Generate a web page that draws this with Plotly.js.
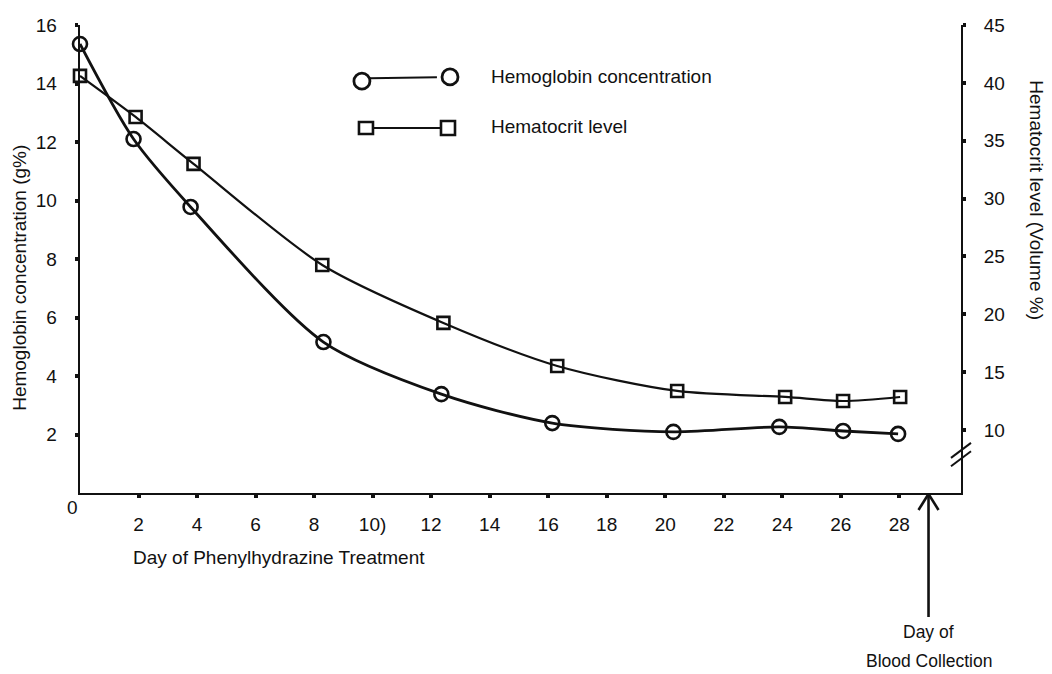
<!DOCTYPE html>
<html>
<head>
<meta charset="utf-8">
<script src="https://cdn.plot.ly/plotly-3.0.1.min.js"></script>
<style>
html,body{margin:0;padding:0;background:#fff;}
#chart{width:1052px;height:674px;}
</style>
</head>
<body>
<div id="chart"></div>
<script>
// ---- data ----
const hemoDays = [0, 1.83, 3.78, 8.32, 12.35, 16.14, 20.28, 23.9, 26.08, 27.96];
const hemoValues = [15.35, 12.1, 9.78, 5.16, 3.38, 2.39, 2.09, 2.26, 2.12, 2.02];
const hctDays = [0, 1.9, 3.88, 8.28, 12.42, 16.31, 20.41, 24.1, 26.08, 28.03];
const hctValues = [40.6, 37.05, 33.0, 24.26, 19.25, 15.53, 13.37, 12.85, 12.5, 12.85];
const xTickVals = [2, 4, 6, 8, 10, 12, 14, 16, 18, 20, 22, 24, 26, 28];
const xTickText = ["2", "4", "6", "8", "10)", "12", "14", "16", "18", "20", "22", "24", "26", "28"];
const leftTickVals = [2, 4, 6, 8, 10, 12, 14, 16];
const rightTickVals = [10, 15, 20, 25, 30, 35, 40, 45];
const collectionDay = 29;
const seriesNames = ["Hemoglobin concentration", "Hematocrit level"];

const FONT = '"Liberation Sans", Arial, Helvetica, sans-serif';
const INK = '#111111';

const traces = [
  {
    x: hemoDays, y: hemoValues, name: seriesNames[0], yaxis: 'y',
    type: 'scatter', mode: 'lines+markers', cliponaxis: false,
    line: {color: INK, width: 2.8, shape: 'spline', smoothing: 0.8},
    marker: {symbol: 'circle-open', size: 14, color: INK, line: {width: 2.6, color: INK}},
    showlegend: false
  },
  {
    x: hctDays, y: hctValues, name: seriesNames[1], yaxis: 'y2',
    type: 'scatter', mode: 'lines+markers', cliponaxis: false,
    line: {color: INK, width: 2.2, shape: 'spline', smoothing: 0.8},
    marker: {symbol: 'square-open', size: 12, color: INK, line: {width: 2.6, color: INK}},
    showlegend: false
  }
];

function pxShape(type, ax, ay, x0, y0, x1, y1, w) {
  return {type: type, xref: 'paper', yref: 'paper', xsizemode: 'pixel', ysizemode: 'pixel',
    xanchor: ax, yanchor: ay, x0: x0, y0: y0, x1: x1, y1: y1,
    line: {color: INK, width: w}};
}

const shapes = [
  // legend samples
  pxShape('line', 0.32, 0.886, 8, 0, 75, 1, 2),
  pxShape('circle', 0.32, 0.880, -8, -8, 8, 8, 2.8),
  pxShape('circle', 0.42, 0.889, -8, -8, 8, 8, 2.8),
  pxShape('line', 0.3246, 0.780, 7, 0, 75, 0, 2),
  pxShape('rect', 0.3246, 0.780, -7, -6, 7, 6, 2.6),
  pxShape('rect', 0.4177, 0.780, -7, -7, 7, 7, 2.6),
  // axis break marks on right axis
  pxShape('line', 1, 0.090, -10, -7, 10, 8, 2),
  pxShape('line', 1, 0.072, -10, -7, 10, 8, 2),
  // arrow for day of blood collection
  {type: 'line', xref: 'x', yref: 'paper', x0: collectionDay, x1: collectionDay, y0: -0.002, y1: -0.265,
   line: {color: INK, width: 2.6}},
  {type: 'line', xref: 'x', yref: 'paper', xsizemode: 'pixel', xanchor: collectionDay,
   ysizemode: 'pixel', yanchor: -0.002, x0: 0, y0: 0, x1: -10, y1: -16, line: {color: INK, width: 2.6}},
  {type: 'line', xref: 'x', yref: 'paper', xsizemode: 'pixel', xanchor: collectionDay,
   ysizemode: 'pixel', yanchor: -0.002, x0: 0, y0: 0, x1: 10, y1: -16, line: {color: INK, width: 2.6}}
];

const txt = (s) => ({family: FONT, size: s, color: INK});

const annotations = [
  {text: seriesNames[0], xref: 'paper', yref: 'paper', x: 0.4642, y: 0.889, xanchor: 'left', yanchor: 'middle', showarrow: false, font: txt(19)},
  {text: seriesNames[1], xref: 'paper', yref: 'paper', x: 0.4642, y: 0.784, xanchor: 'left', yanchor: 'middle', showarrow: false, font: txt(19)},
  {text: 'Day of Phenylhydrazine Treatment', xref: 'paper', yref: 'paper', x: 0.2259, y: -0.137, xanchor: 'center', yanchor: 'middle', showarrow: false, font: txt(19)},
  {text: 'Hemoglobin concentration (g%)', xref: 'paper', yref: 'paper', x: -0.068, y: 0.46, xanchor: 'center', yanchor: 'middle', textangle: -90, showarrow: false, font: txt(19)},
  {text: 'Hematocrit level (Volume %)', xref: 'paper', yref: 'paper', x: 1.086, y: 0.626, xanchor: 'center', yanchor: 'middle', textangle: 90, showarrow: false, font: txt(19)},
  {text: '0', xref: 'paper', yref: 'paper', x: -0.008, y: -0.03, xanchor: 'center', yanchor: 'middle', showarrow: false, font: txt(19)},
  {text: 'Day of', xref: 'x', yref: 'paper', x: collectionDay, y: -0.297, xanchor: 'center', yanchor: 'middle', showarrow: false, font: txt(17.5)},
  {text: 'Blood Collection', xref: 'x', yref: 'paper', x: collectionDay, y: -0.36, xanchor: 'center', yanchor: 'middle', showarrow: false, font: txt(17.5)}
];

const layout = {
  width: 1052, height: 674,
  margin: {l: 80, r: 91, t: 25, b: 181, pad: 0},
  paper_bgcolor: '#ffffff', plot_bgcolor: '#ffffff',
  font: txt(19),
  showlegend: false,
  xaxis: {
    range: [0, 30.11], showgrid: false, zeroline: false,
    showline: true, linecolor: INK, linewidth: 2.4,
    tickmode: 'array', tickvals: xTickVals, ticktext: xTickText,
    ticks: 'outside', ticklen: 3, tickwidth: 4, tickcolor: INK,
    ticklabelstandoff: 10, tickfont: txt(19)
  },
  yaxis: {
    range: [0, 16], showgrid: false, zeroline: false,
    showline: true, linecolor: INK, linewidth: 2.4,
    tickmode: 'array', tickvals: leftTickVals,
    ticks: 'outside', ticklen: 3, tickwidth: 4, tickcolor: INK,
    ticklabelstandoff: 14, tickfont: txt(19)
  },
  yaxis2: {
    range: [4.55, 45], overlaying: 'y', side: 'right', anchor: 'x',
    showgrid: false, zeroline: false,
    showline: true, linecolor: INK, linewidth: 2,
    tickmode: 'array', tickvals: rightTickVals,
    ticks: 'outside', ticklen: 3, tickwidth: 4, tickcolor: INK,
    ticklabelstandoff: 14, tickfont: txt(19)
  },
  shapes: shapes,
  annotations: annotations
};

Plotly.newPlot('chart', traces, layout, {staticPlot: true, displayModeBar: false});
</script>
</body>
</html>
